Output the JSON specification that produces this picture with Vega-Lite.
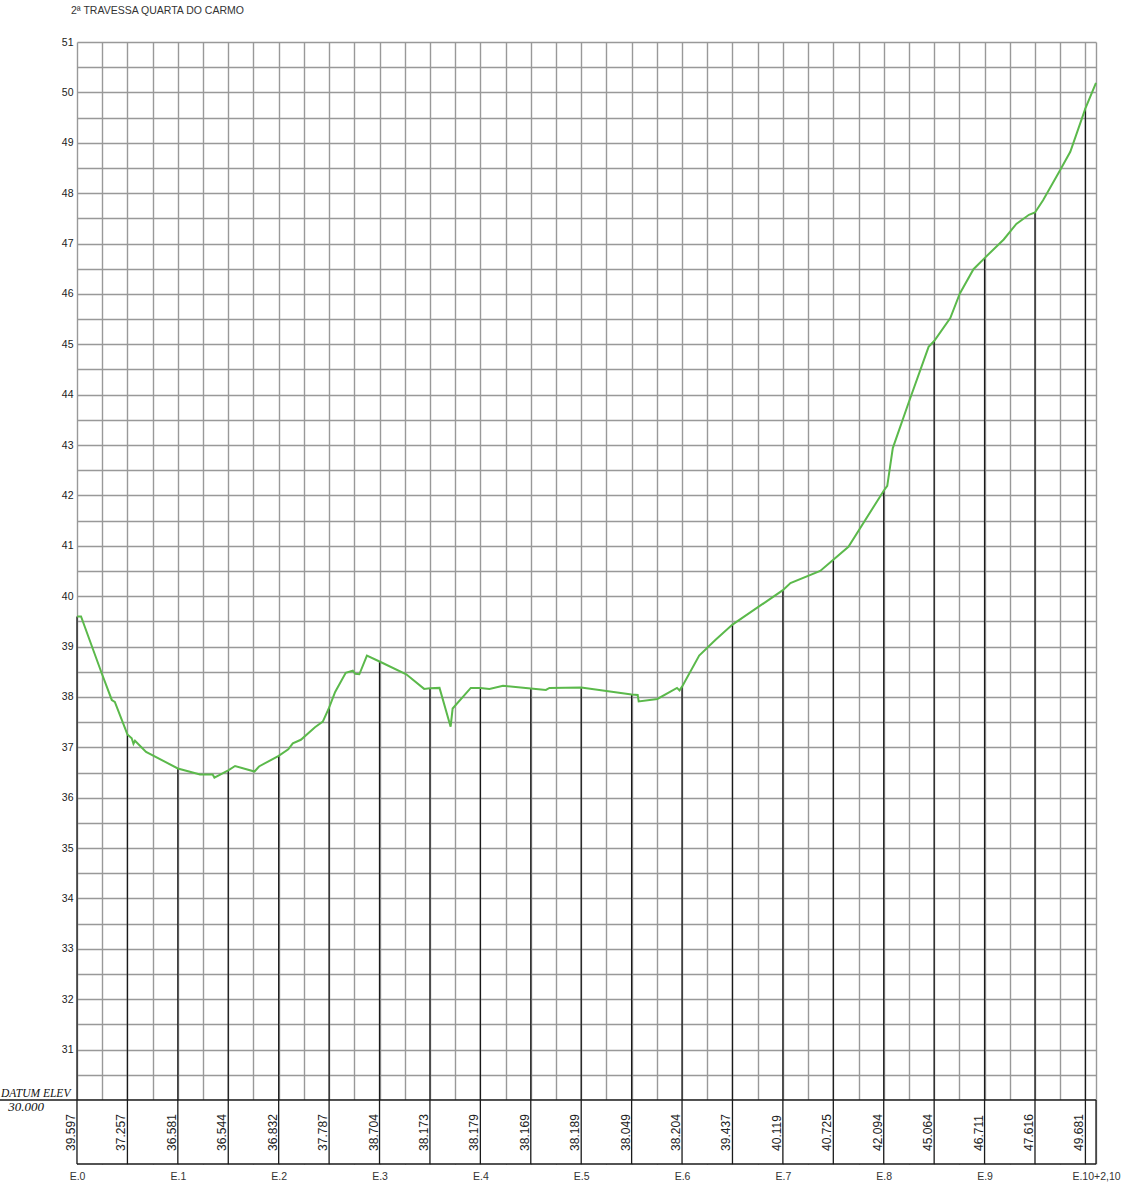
{
  "$schema": "https://vega.github.io/schema/vega-lite/v6.json",
  "autosize": {"type": "none"},
  "padding": {"left": 77, "top": 42, "right": 28, "bottom": 34},
  "width": 1019,
  "height": 1122,
  "background": "white",
  "data": {"values": [{"k": 1}]},
  "config": {
    "font": "Liberation Sans",
    "view": {"stroke": null},
    "axis": {"labelFont": "Liberation Sans", "titleFont": "Liberation Sans"}
  },
  "title": {
    "text": "2ª TRAVESSA QUARTA DO CARMO",
    "anchor": "start",
    "frame": "group",
    "fontSize": 10.5,
    "fontWeight": "normal",
    "color": "#333333",
    "dx": -6,
    "offset": 21
  },
  "datasets": {
    "stations": [
      {"s": 0, "z": 39.597}, {"s": 10, "z": 37.257}, {"s": 20, "z": 36.581}, {"s": 30, "z": 36.544},
      {"s": 40, "z": 36.832}, {"s": 50, "z": 37.787}, {"s": 60, "z": 38.704}, {"s": 70, "z": 38.173},
      {"s": 80, "z": 38.179}, {"s": 90, "z": 38.169}, {"s": 100, "z": 38.189}, {"s": 110, "z": 38.049},
      {"s": 120, "z": 38.204}, {"s": 130, "z": 39.437}, {"s": 140, "z": 40.119}, {"s": 150, "z": 40.725},
      {"s": 160, "z": 42.094}, {"s": 170, "z": 45.064}, {"s": 180, "z": 46.711}, {"s": 190, "z": 47.616},
      {"s": 200, "z": 49.681}
    ],
    "profile": [
      {"s": 0, "z": 39.597}, {"s": 0.8, "z": 39.597}, {"s": 4.9, "z": 38.47}, {"s": 6.9, "z": 37.94},
      {"s": 7.5, "z": 37.9}, {"s": 10.0, "z": 37.257}, {"s": 10.85, "z": 37.18}, {"s": 11.2, "z": 37.07},
      {"s": 11.5, "z": 37.13}, {"s": 13.7, "z": 36.91}, {"s": 20.0, "z": 36.581}, {"s": 24.4, "z": 36.46},
      {"s": 26.9, "z": 36.46}, {"s": 27.25, "z": 36.4}, {"s": 30.0, "z": 36.544}, {"s": 31.35, "z": 36.63},
      {"s": 35.2, "z": 36.52}, {"s": 36.1, "z": 36.62}, {"s": 40.0, "z": 36.832}, {"s": 41.9, "z": 36.96},
      {"s": 42.8, "z": 37.08}, {"s": 44.4, "z": 37.15}, {"s": 47.2, "z": 37.4}, {"s": 48.75, "z": 37.51},
      {"s": 50.0, "z": 37.787}, {"s": 51.2, "z": 38.1}, {"s": 53.3, "z": 38.48}, {"s": 54.7, "z": 38.52},
      {"s": 55.2, "z": 38.46}, {"s": 56.0, "z": 38.45}, {"s": 57.5, "z": 38.82}, {"s": 60.0, "z": 38.704},
      {"s": 65.3, "z": 38.45}, {"s": 68.85, "z": 38.16}, {"s": 70.0, "z": 38.173}, {"s": 71.9, "z": 38.18},
      {"s": 74.1, "z": 37.41}, {"s": 74.5, "z": 37.77}, {"s": 78.1, "z": 38.18}, {"s": 80.0, "z": 38.179},
      {"s": 81.8, "z": 38.16}, {"s": 84.5, "z": 38.22}, {"s": 90.0, "z": 38.169}, {"s": 93.0, "z": 38.14},
      {"s": 93.7, "z": 38.18}, {"s": 100.0, "z": 38.189}, {"s": 110.0, "z": 38.049}, {"s": 111.2, "z": 38.04},
      {"s": 111.4, "z": 37.91}, {"s": 115.1, "z": 37.96}, {"s": 119.0, "z": 38.18}, {"s": 119.5, "z": 38.13},
      {"s": 120.0, "z": 38.204}, {"s": 123.4, "z": 38.82}, {"s": 126.6, "z": 39.13}, {"s": 130.0, "z": 39.437},
      {"s": 140.0, "z": 40.119}, {"s": 141.5, "z": 40.26}, {"s": 147.4, "z": 40.5}, {"s": 150.0, "z": 40.725},
      {"s": 153.0, "z": 40.98}, {"s": 160.0, "z": 42.094}, {"s": 160.7, "z": 42.19}, {"s": 161.8, "z": 42.94},
      {"s": 164.9, "z": 43.83}, {"s": 168.9, "z": 44.95}, {"s": 170.0, "z": 45.064}, {"s": 173.2, "z": 45.52},
      {"s": 175.1, "z": 46.01}, {"s": 177.8, "z": 46.49}, {"s": 180.0, "z": 46.711}, {"s": 183.8, "z": 47.08},
      {"s": 186.3, "z": 47.39}, {"s": 188.8, "z": 47.57}, {"s": 190.0, "z": 47.616}, {"s": 191.6, "z": 47.86},
      {"s": 195.0, "z": 48.46}, {"s": 197.0, "z": 48.82}, {"s": 200.0, "z": 49.681}, {"s": 202.1, "z": 50.19}
    ]
  },
  "layer": [
    {
      "mark": {"type": "rect", "fill": "white", "stroke": null},
      "encoding": {
        "x": {"datum": 0, "type": "quantitative", "title": null},
        "x2": {"datum": 202.1},
        "y": {"datum": 28.7297, "type": "quantitative", "title": null},
        "y2": {"datum": 30}
      }
    },
    {
      "data": {"name": "stations"},
      "mark": {"type": "rule", "color": "#1a1a1a", "strokeWidth": 1.3},
      "encoding": {
        "x": {
          "field": "s", "type": "quantitative", "title": null,
          "scale": {"domain": [0, 202.1], "nice": false, "zero": false},
          "axis": {
            "values": [0,5,10,15,20,25,30,35,40,45,50,55,60,65,70,75,80,85,90,95,100,105,110,115,120,125,130,135,140,145,150,155,160,165,170,175,180,185,190,195,200,202.1],
            "tickCount": 200,
            "labelExpr": "datum.value > 201 ? 'E.10+2,10' : (datum.value % 20 == 0 && datum.value < 199 ? 'E.' + (datum.value / 20) : '')",
            "grid": true, "gridColor": "#999999", "gridWidth": 1.4, "gridOpacity": 1,
            "ticks": false, "domain": false,
            "labelFontSize": 10.5, "labelColor": "#333333", "labelPadding": 7,
            "labelOverlap": false, "labelFlush": false, "labelAngle": 0, "title": null
          }
        },
        "y": {
          "field": "z", "type": "quantitative", "title": null,
          "scale": {"domain": [28.7297, 51], "nice": false, "zero": false},
          "axis": {
            "values": [30,30.5,31,31.5,32,32.5,33,33.5,34,34.5,35,35.5,36,36.5,37,37.5,38,38.5,39,39.5,40,40.5,41,41.5,42,42.5,43,43.5,44,44.5,45,45.5,46,46.5,47,47.5,48,48.5,49,49.5,50,50.5,51],
            "tickCount": 200,
            "labelExpr": "datum.value >= 31 && datum.value % 1 == 0 ? format(datum.value, 'd') : ''",
            "grid": true, "gridColor": "#999999", "gridWidth": 1.4, "gridOpacity": 1,
            "ticks": false, "domain": false,
            "labelFontSize": 10.5, "labelColor": "#222222", "labelPadding": 4,
            "labelOverlap": false, "labelFlush": false, "title": null
          }
        },
        "y2": {"datum": 28.7297}
      }
    },
    {
      "mark": {"type": "rule", "color": "#1a1a1a", "strokeWidth": 1.3},
      "encoding": {
        "x": {"datum": 202.1, "type": "quantitative", "title": null},
        "y": {"datum": 28.7297, "type": "quantitative", "title": null},
        "y2": {"datum": 30}
      }
    },
    {
      "mark": {"type": "rule", "color": "#1a1a1a", "strokeWidth": 1.3},
      "encoding": {
        "x": {"datum": -15.28, "type": "quantitative", "title": null},
        "x2": {"datum": 202.1},
        "y": {"datum": 30, "type": "quantitative", "title": null}
      }
    },
    {
      "mark": {"type": "rule", "color": "#1a1a1a", "strokeWidth": 1.3},
      "encoding": {
        "x": {"datum": 0, "type": "quantitative", "title": null},
        "x2": {"datum": 202.1},
        "y": {"datum": 28.7297, "type": "quantitative", "title": null}
      }
    },
    {
      "data": {"name": "profile"},
      "mark": {"type": "line", "color": "#5bb94b", "strokeWidth": 2},
      "encoding": {
        "x": {"field": "s", "type": "quantitative", "title": null},
        "y": {"field": "z", "type": "quantitative", "title": null},
        "order": {"field": "s", "type": "quantitative"}
      }
    },
    {
      "data": {"name": "stations"},
      "mark": {"type": "text", "angle": 270, "align": "left", "baseline": "alphabetic", "dy": -2, "fontSize": 12, "font": "Liberation Sans", "color": "#222222"},
      "encoding": {
        "x": {"field": "s", "type": "quantitative", "title": null},
        "y": {"datum": 28.99, "type": "quantitative", "title": null},
        "text": {"field": "z", "type": "quantitative", "format": ".3f"}
      }
    },
    {
      "mark": {"type": "text", "text": "DATUM  ELEV", "align": "center", "baseline": "alphabetic", "fontSize": 11.5, "font": "Liberation Serif", "fontStyle": "italic", "color": "#111111"},
      "encoding": {
        "x": {"datum": -8.2, "type": "quantitative", "title": null},
        "y": {"datum": 30.06, "type": "quantitative", "title": null}
      }
    },
    {
      "mark": {"type": "text", "text": "30.000", "align": "center", "baseline": "alphabetic", "fontSize": 13, "font": "Liberation Serif", "fontStyle": "italic", "color": "#111111"},
      "encoding": {
        "x": {"datum": -10.1, "type": "quantitative", "title": null},
        "y": {"datum": 29.79, "type": "quantitative", "title": null}
      }
    }
  ]
}
